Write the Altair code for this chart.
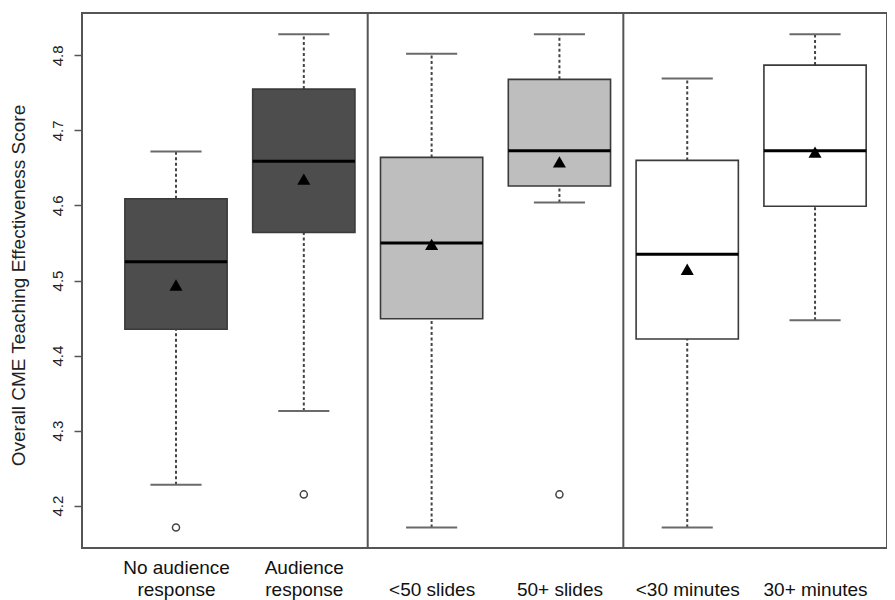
import altair as alt
import pandas as pd

# ---- data ----
groups = ["No audience response", "Audience response", "<50 slides", "50+ slides",
          "<30 minutes", "30+ minutes"]
label_lines = [["No audience", "response"], ["Audience", "response"], ["", "<50 slides"],
               ["", "50+ slides"], ["", "<30 minutes"], ["", "30+ minutes"]]
positions = [1, 2, 3, 4, 5, 6]
panel = ["Audience response", "Audience response", "Slides", "Slides", "Length", "Length"]
lower_whisker = [4.228, 4.326, 4.171, 4.604, 4.171, 4.447]
q1 = [4.435, 4.564, 4.449, 4.626, 4.422, 4.599]
median = [4.525, 4.659, 4.550, 4.673, 4.535, 4.673]
q3 = [4.609, 4.755, 4.664, 4.768, 4.660, 4.787]
upper_whisker = [4.672, 4.828, 4.802, 4.828, 4.769, 4.828]
means = [4.494, 4.635, 4.548, 4.658, 4.515, 4.671]
outlier_pos = [1, 2, 4]
outlier_val = [4.171, 4.215, 4.215]
dividers = [2.5, 4.5]
y_ticks = [4.2, 4.3, 4.4, 4.5, 4.6, 4.7, 4.8]

panel_domain = ["Audience response", "Slides", "Length"]
panel_colors = ["#4d4d4d", "#bebebe", "#ffffff"]

df = pd.DataFrame({
    "group": groups, "pos": positions, "panel": panel,
    "lw": lower_whisker, "q1": q1, "med": median, "q3": q3,
    "uw": upper_whisker, "mean": means,
})
df_out = pd.DataFrame({"pos": outlier_pos, "val": outlier_val})
df_div = pd.DataFrame({"x": dividers})

FONT = "Liberation Sans"
xs = alt.Scale(domain=[0.2645, 6.563], nice=False, zero=False)
ys = alt.Scale(domain=[4.1436, 4.8564], nice=False, zero=False)

label_expr = "[" + ",".join(
    "[" + ",".join("'" + s + "'" for s in pair) + "]" for pair in label_lines
) + "][datum.value - 1]"

x_axis = alt.Axis(values=positions, labelExpr=label_expr, ticks=False, domain=False,
                  grid=False, labelFont=FONT, labelFontSize=19, labelColor="#111111",
                  labelLineHeight=22, labelPadding=10, labelBaseline="top",
                  labelAlign="center", labelFlush=False, labelOverlap=False)
Y_TITLE = "Overall CME Teaching Effectiveness Score"
y_axis = alt.Axis(values=y_ticks, format=".1f", domain=False, grid=False,
                  tickSize=8, tickColor="#555555", tickWidth=1.5,
                  labelAngle=270, labelAlign="center", labelBaseline="bottom",
                  labelPadding=9, labelFont=FONT, labelFontSize=15,
                  labelColor="#222222", labelFlush=False, labelOverlap=False,
                  titleFont=FONT, titleFontSize=19, titleFontWeight="normal",
                  titleColor="#222222", titleAngle=270, titleX=-64,
                  titleY=272, titleAlign="center", titleBaseline="middle")


def X(field):
    return alt.X(field, type="quantitative", scale=xs, axis=x_axis, title=None)


def Y(field):
    return alt.Y(field, type="quantitative", scale=ys, axis=y_axis, title=Y_TITLE)


base = alt.Chart(df).transform_calculate(
    box_lo="datum.pos - 0.4", box_hi="datum.pos + 0.4",
    cap_lo="datum.pos - 0.2", cap_hi="datum.pos + 0.2",
)

whisk_up = base.mark_rule(color="#444444", strokeWidth=2, strokeDash=[3, 2.5]).encode(
    x=X("pos"), y=Y("q3"), y2="uw:Q",
)
whisk_dn = base.mark_rule(color="#444444", strokeWidth=2, strokeDash=[3, 2.5]).encode(
    x=X("pos"), y=Y("lw"), y2="q1:Q",
)
cap_up = base.mark_rule(color="#6a6a6a", strokeWidth=2).encode(
    x=X("cap_lo"), x2="cap_hi:Q", y=Y("uw"),
)
cap_dn = base.mark_rule(color="#6a6a6a", strokeWidth=2).encode(
    x=X("cap_lo"), x2="cap_hi:Q", y=Y("lw"),
)
boxes = base.mark_rect(stroke="#3a3a3a", strokeWidth=1.6).encode(
    x=X("box_lo"), x2="box_hi:Q", y=Y("q1"), y2="q3:Q",
    fill=alt.Fill("panel:N", scale=alt.Scale(domain=panel_domain, range=panel_colors),
                  legend=None),
)
med_line = base.mark_rule(color="#000000", strokeWidth=3).encode(
    x=X("box_lo"), x2="box_hi:Q", y=Y("med"),
)
mean_pts = base.mark_point(shape="triangle-up", filled=True, color="#000000",
                           size=170, opacity=1).encode(
    x=X("pos"), y=Y("mean"),
)
outs = alt.Chart(df_out).mark_point(shape="circle", filled=False, color="#444444",
                                    size=50, strokeWidth=1.5, opacity=1).encode(
    x=X("pos"), y=Y("val"),
)
divs = alt.Chart(df_div).mark_rule(color="#555555", strokeWidth=2).encode(
    x=X("x"),
)

chart = alt.layer(
    whisk_up, whisk_dn, cap_up, cap_dn, boxes, med_line, mean_pts, outs, divs
).properties(
    width=805, height=535,
    autosize=alt.AutoSizeParams(type="none"),
    padding={"left": 74, "top": 5, "right": 0, "bottom": 62},
    background="white",
).configure_view(
    stroke="#555555", strokeWidth=2
)

chart.save("out.html", embed_options={"renderer": "svg", "actions": False})
